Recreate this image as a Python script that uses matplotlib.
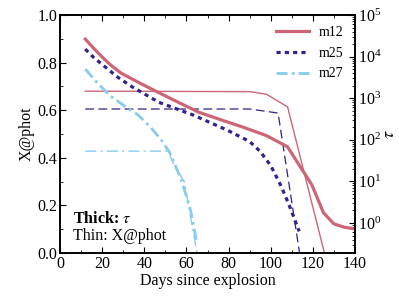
import numpy as np
import matplotlib
matplotlib.use("Agg")
import matplotlib.pyplot as plt
from matplotlib.ticker import MultipleLocator, LogLocator

plt.rcParams['font.family'] = 'serif'
plt.rcParams['font.serif'] = ['Liberation Serif', 'DejaVu Serif']
plt.rcParams['mathtext.fontset'] = 'stix'
plt.rcParams['font.size'] = 11.5

# ---- данные: тонкие линии (X@phot, левая ось) ----
m12_x_days = [12, 90, 98, 108, 125.5]
m12_x = [0.68, 0.678, 0.667, 0.614, 0.0]
m25_x_days = [12, 90, 103.5, 113.7]
m25_x = [0.605, 0.605, 0.588, 0.0]
m27_x_days = [12, 51.5, 54, 59, 65]
m27_x = [0.428, 0.428, 0.37, 0.30, 0.0]

# ---- данные: толстые линии (tau, правая ось) ----
m12_tau_days = [12, 16, 20, 24, 29, 38, 47, 57, 66, 77, 87, 98, 108, 119.5, 125, 130, 135, 140]
m12_tau = [26300, 15800, 9800, 6300, 4000, 2290, 1350, 759, 457, 295, 200, 126, 67.6, 8.3, 1.78, 0.95, 0.79, 0.72]
m25_tau_days = [12, 16, 21, 27, 34, 47, 63, 79, 90, 95, 100, 105, 109, 113.5]
m25_tau = [15100, 9500, 5890, 3300, 1905, 794, 398, 174, 91, 52.5, 24, 7.6, 2.5, 0.63]
m27_tau_days = [12, 18, 24, 31, 37, 43, 48, 52, 55, 58, 62, 65]
m27_tau = [5010, 2240, 1120, 631, 398, 200, 100, 50, 22.4, 9.5, 2.0, 0.32]

c12 = '#CC6677'
c25 = '#332288'
c27 = '#88CCEE'

fig = plt.figure(figsize=(3.99, 2.99), dpi=100)
ax = fig.add_axes([60 / 399, 1 - 253 / 299, 295 / 399, 238 / 299])
ax2 = ax.twinx()

# тонкие: X@phot
ax.plot(m12_x_days, m12_x, color=c12, lw=1.0)
ax.plot(m25_x_days, m25_x, color=c25, lw=0.9, linestyle=(0, (7, 3.5)))
ax.plot(m27_x_days, m27_x, color=c27, lw=1.0, linestyle=(0, (8, 3, 1.5, 3)))

# толстые: tau
ax2.plot(m12_tau_days, m12_tau, color=c12, lw=2.3, label='m12')
ax2.plot(m25_tau_days, m25_tau, color=c25, lw=2.3, dashes=(1.3, 1.3), label='m25')
ax2.plot(m27_tau_days, m27_tau, color=c27, lw=2.0, dashes=(4, 1.5, 1, 1.5), label='m27')
ax2.set_yscale('log')
ax2.set_ylim(0.19, 1e5)
ax2.yaxis.set_major_locator(LogLocator(base=10, numticks=10))
ax2.yaxis.set_minor_locator(LogLocator(base=10, subs=np.arange(2, 10), numticks=20))

ax.set_xlim(0, 140)
ax.set_ylim(0, 1.0)
ax.xaxis.set_major_locator(MultipleLocator(20))
ax.xaxis.set_minor_locator(MultipleLocator(10))
ax.yaxis.set_major_locator(MultipleLocator(0.2))
ax.yaxis.set_minor_locator(MultipleLocator(0.1))
ax.yaxis.set_major_formatter(matplotlib.ticker.FormatStrFormatter('%.1f'))

ax.tick_params(which='both', direction='in', top=True)
ax.tick_params(which='major', length=4, width=0.8, pad=2)
ax.tick_params(which='minor', length=2, width=0.6)
ax2.tick_params(which='both', direction='in')
ax2.tick_params(which='major', length=4, width=0.8, pad=2)
ax2.tick_params(which='minor', length=2, width=0.6)
for a in (ax, ax2):
    for s in a.spines.values():
        s.set_linewidth(1.2)

ax.set_xlabel('Days since explosion', labelpad=1)
ax.set_ylabel('X@phot', labelpad=2)
ax2.set_ylabel(r'$\tau$', labelpad=0, fontsize=13)

ax.text(0.044, 0.143, r'Thick: $\tau$', transform=ax.transAxes,
        fontweight='bold', va='center', ha='left')
ax.text(0.044, 0.072, 'Thin: X@phot', transform=ax.transAxes,
        va='center', ha='left')

ax2.legend(loc='upper right', frameon=False, fontsize=10,
           handlelength=2.4, labelspacing=0.55, borderaxespad=0.4,
           handletextpad=0.7)

fig.savefig('out.png', dpi=100)
